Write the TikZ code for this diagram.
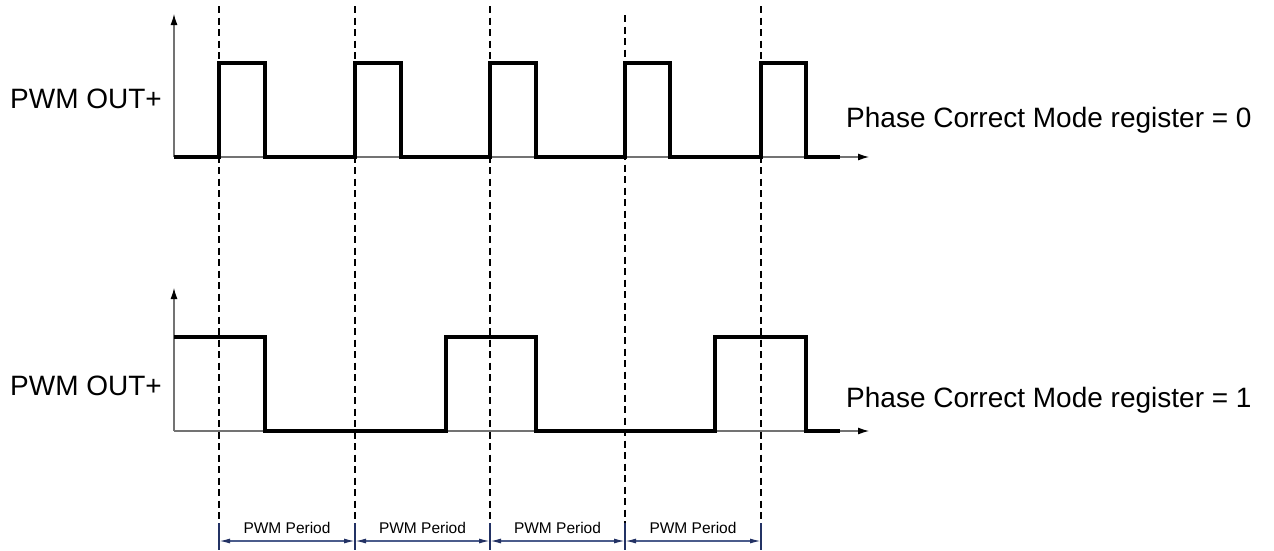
\documentclass[tikz,border=0pt]{standalone}
\usepackage{fontspec}
\setmainfont{Liberation Sans}
\usetikzlibrary{arrows.meta}
\definecolor{dimline}{RGB}{75,92,140}
\definecolor{extline}{RGB}{35,50,100}
\begin{document}
\begin{tikzpicture}[x=1pt,y=-1pt,
  wave/.style={line width=3.2pt,line join=miter,black},
  axis/.style={line width=1.1pt,color=black!55,-{Latex[length=11pt,width=7pt,color=black]}},
  guide/.style={line width=2pt,dash pattern=on 7pt off 4.5pt,black},
  extl/.style={line width=1.2pt,extline},
  dimarrow/.style={line width=1.4pt,dimline,{Latex[length=11pt,width=5pt,color=extline]}-{Latex[length=11pt,width=5pt,color=extline]}},
  biglabel/.style={inner sep=0pt,anchor=base west,font=\fontsize{28}{32}\selectfont},
  periodlabel/.style={inner sep=0pt,anchor=base,font=\fontsize{15.5}{18}\selectfont}]
\useasboundingbox (0,0) rectangle (1274,550);

% axes
\coordinate (o1) at (174,157);
\coordinate (y1) at (174,14);
\coordinate (x1) at (869,157);
\coordinate (o2) at (174,431);
\coordinate (y2) at (174,288);
\coordinate (x2) at (869,431);
\draw[axis] (o1) -- (y1);
\draw[axis] (o1) -- (x1);
\draw[axis] (o2) -- (y2);
\draw[axis] (o2) -- (x2);

% waveforms
\draw[wave] (174,157) -- (219,157) -- (219,63) -- (265,63) -- (265,157)
  -- (355,157) -- (355,63) -- (401,63) -- (401,157)
  -- (490,157) -- (490,63) -- (536,63) -- (536,157)
  -- (625,157) -- (625,63) -- (670,63) -- (670,157)
  -- (761,157) -- (761,63) -- (806,63) -- (806,157) -- (840,157);
\draw[wave] (174,337) -- (265,337) -- (265,431)
  -- (446,431) -- (446,337) -- (536,337) -- (536,431)
  -- (715,431) -- (715,337) -- (806,337) -- (806,431) -- (840,431);

% guide lines
\foreach \n/\x/\t in {a/219/6,b/355/6,c/490/6,d/625/15,e/761/6}{
  \coordinate (\n top) at (\x,\t);
  \coordinate (\n mid) at (\x,523);
  \coordinate (\n bot) at (\x,550);
  \coordinate (\n dim) at (\x,541);
  \draw[guide] (\n top) -- (\n mid);
  \draw[extl] (\n mid) -- (\n bot);
}

% dimension lines
\draw[dimarrow] (adim) -- (bdim);
\draw[dimarrow] (bdim) -- (cdim);
\draw[dimarrow] (cdim) -- (ddim);
\draw[dimarrow] (ddim) -- (edim);

\node[periodlabel] (p1) at (287,533) {PWM Period};
\node[periodlabel] (p2) at (422.5,533) {PWM Period};
\node[periodlabel] (p3) at (557.5,533) {PWM Period};
\node[periodlabel] (p4) at (693,533) {PWM Period};

% labels
\node[biglabel] (l1) at (10,108) {PWM OUT+};
\node[biglabel] (l2) at (10,395) {PWM OUT+};
\node[biglabel] (r1) at (846,127) {Phase Correct Mode register = 0};
\node[biglabel] (r2) at (846,407) {Phase Correct Mode register = 1};
\end{tikzpicture}
\end{document}
